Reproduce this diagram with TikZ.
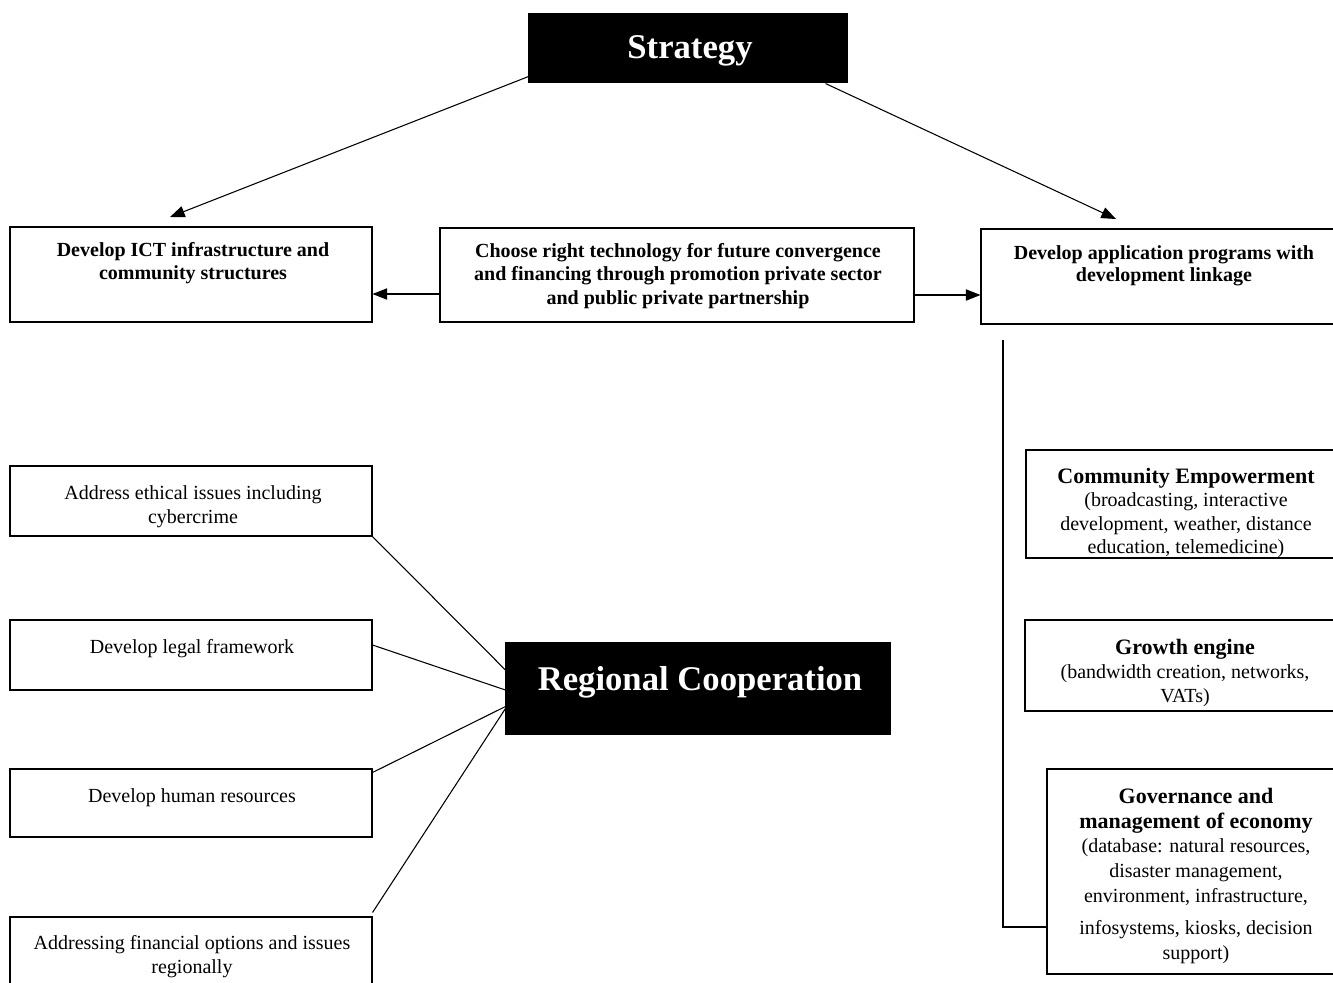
\documentclass[tikz,border=0pt]{standalone}
\usepackage{fontspec}
\setmainfont{Liberation Serif}
\usetikzlibrary{arrows.meta,fit,calc}
\newcommand{\boxhead}[1]{{\fontsize{16.5}{18}\selectfont\bfseries #1}}
\tikzset{
  box/.style={draw, line width=0.8pt, inner sep=0pt},
  blackbox/.style={box, fill=black},
  boldtxt/.style={anchor=north, inner sep=0pt, align=center, font=\fontsize{15}{17}\selectfont\bfseries},
  plaintxt/.style={anchor=north, inner sep=0pt, align=center, font=\fontsize{15}{18}\selectfont},
  headtxt/.style={text=white, inner sep=0pt, font=\fontsize{26}{30}\selectfont\bfseries},
  arr/.style={line width=0.8pt, -{Triangle[length=11pt,width=8.5pt]}},
  link/.style={line width=0.8pt}
}
\begin{document}
\begin{tikzpicture}[x=0.75pt,y=0.75pt,yscale=-1]
\useasboundingbox (0,0) rectangle (1333,982);
\clip (0,0) rectangle (1333,982);
%Shape: Rectangle [strategy]
\node[blackbox, fit={(529,14) (847,82)}] (strat) {};
\node[headtxt] (stratlbl) at (690,51) {Strategy};
%Shape: Rectangle [top row]
\node[box, fit={(10,227) (372,322)}] (ict) {};
\node[box, fit={(440,228) (914,322)}] (choose) {};
\node[box, fit={(981,229) (1345,324)}] (app) {};
% Text Node
\node[boldtxt] (ictlbl) at (193,242) {Develop ICT infrastructure and\\community structures};
\node[boldtxt, font=\fontsize{15}{17.5}\selectfont\bfseries] (chooselbl) at (678,243) {Choose right technology for future convergence\\and financing through promotion private sector\\and public private partnership};
\node[boldtxt] (applbl) at (1164,245) {Develop application programs with\\development linkage};
%Shape: Rectangle [regional cooperation]
\node[blackbox, fit={(506,643) (890,734)}] (reg) {};
\node[headtxt] (reglbl) at (700,682) {Regional Cooperation};
%Shape: Rectangle [left column]
\node[box, fit={(10,466) (372,536)}] (ethic) {};
\node[box, fit={(10,620) (372,690)}] (legal) {};
\node[box, fit={(10,769) (372,837)}] (human) {};
\node[box, fit={(10,917) (372,995)}] (fin) {};
% Text Node
\node[plaintxt] (ethiclbl) at (193,485) {Address ethical issues including\\cybercrime};
\node[plaintxt] (legallbl) at (192,639) {Develop legal framework};
\node[plaintxt] (humanlbl) at (192,788) {Develop human resources};
\node[plaintxt] (finlbl) at (192,935) {Addressing financial options and issues\\regionally};
%Shape: Rectangle [right column]
\node[box, fit={(1026,450) (1345,558)}] (comm) {};
\node[box, fit={(1025,620) (1345,711)}] (grow) {};
\node[box, fit={(1047,769) (1345,974)}] (gov) {};
% Text Node
\node[plaintxt, font=\fontsize{15}{17.5}\selectfont] (commlbl) at (1186,468) {\boxhead{Community Empowerment}\\(broadcasting, interactive\\development, weather, distance\\education, telemedicine)};
\node[plaintxt] (growlbl) at (1185,639) {\boxhead{Growth engine}\\(bandwidth creation, networks,\\VATs)};
\node[plaintxt, font=\fontsize{15}{18.5}\selectfont] (govlbl) at (1196,788) {\boxhead{Governance and}\\\boxhead{management of economy}\\(database: natural resources,\\disaster management,\\environment, infrastructure,\\[6pt]infosystems, kiosks, decision\\support)};
% Arrows
\coordinate (ictin) at (170,217);
\coordinate (appin) at (1116,219);
\draw[arr] ($(strat.south west)+(0,-6)$) -- (ictin);
\draw[arr] ($(strat.south east)+(-22,1)$) -- (appin);
\draw[arr] ($(choose.west)+(0,19)$) -- ($(ict.east)+(0,19.5)$);
\draw[arr] ($(choose.east)+(0,20)$) -- ($(app.west)+(0,18.5)$);
% Lines
\coordinate (appdrop) at (1003,340);
\draw[link] (appdrop) |- ($(gov.west)+(0,55.5)$);
\draw[link] (ethic.south east) -- ($(reg.west)+(0,-18.5)$);
\draw[link] ($(legal.east)+(0,-10)$) -- ($(reg.west)+(0,1.5)$);
\draw[link] ($(human.north east)+(0,4)$) -- ($(reg.west)+(0,18)$);
\draw[link] ($(fin.north east)+(0,-4)$) -- ($(reg.west)+(0,20)$);
\end{tikzpicture}
\end{document}
